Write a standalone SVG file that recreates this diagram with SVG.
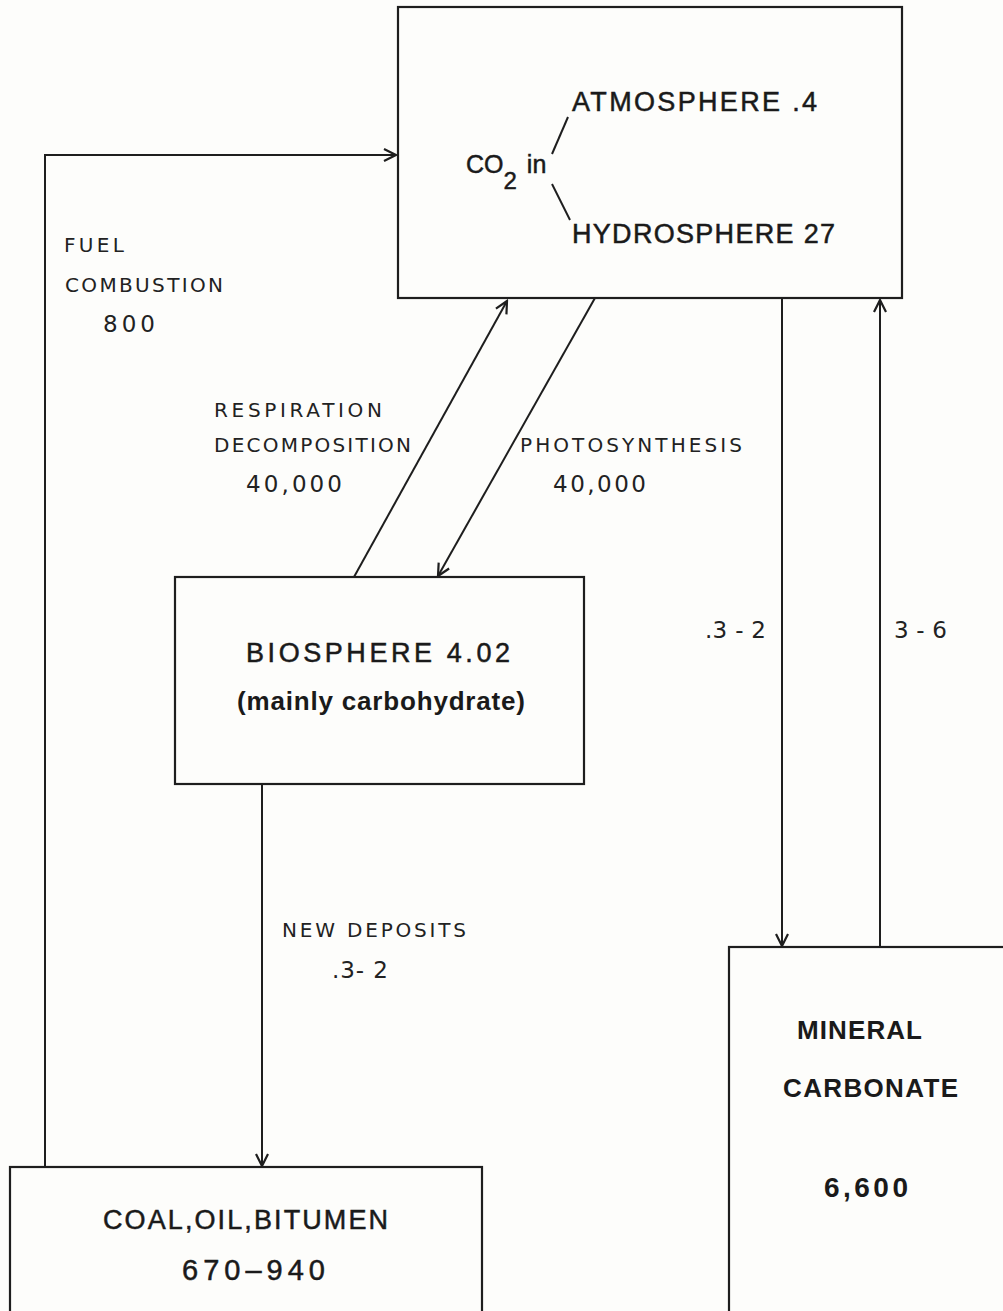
<svg xmlns="http://www.w3.org/2000/svg" width="1003" height="1311" viewBox="0 0 1003 1311">
<style>
.box{fill:none;stroke:#1e1e1e;stroke-width:2.2}
.ln{fill:none;stroke:#1e1e1e;stroke-width:2}
.lbl{font-family:"DejaVu Sans","Liberation Sans",sans-serif;font-size:20px;fill:#222}
.num{font-size:23px}
.bt{font-family:"Liberation Sans",Arial,sans-serif;font-size:27px;fill:#1a1a1a;stroke:#1a1a1a;stroke-width:0.5}
.bb{font-family:"Liberation Sans",Arial,sans-serif;font-size:26px;font-weight:bold;fill:#1a1a1a}
</style>
<defs>
<marker id="ah" viewBox="-14 -8 16 16" refX="0" refY="0" markerWidth="16" markerHeight="16" markerUnits="userSpaceOnUse" orient="auto">
<path d="M-12,-6 L0,0 L-12,6" fill="none" stroke="#1e1e1e" stroke-width="2.2"/>
</marker>
</defs>
<rect width="1003" height="1311" fill="#fdfdfb"/>
<g id="connectors">
<polyline class="ln" points="45,1167 45,155 396,155" marker-end="url(#ah)"/>
<line class="ln" x1="354" y1="577" x2="507" y2="301" marker-end="url(#ah)"/>
<line class="ln" x1="595" y1="298" x2="438" y2="576" marker-end="url(#ah)"/>
<line class="ln" x1="782" y1="298" x2="782" y2="946" marker-end="url(#ah)"/>
<line class="ln" x1="880" y1="947" x2="880" y2="300" marker-end="url(#ah)"/>
<line class="ln" x1="262" y1="784" x2="262" y2="1166" marker-end="url(#ah)"/>
<text class="lbl" x="64" y="252" textLength="60" lengthAdjust="spacing">FUEL</text>
<text class="lbl" x="65" y="292" textLength="158" lengthAdjust="spacing">COMBUSTION</text>
<text class="lbl num" x="103" y="332" textLength="52" lengthAdjust="spacing">800</text>
<text class="lbl" x="214" y="417" textLength="168" lengthAdjust="spacing">RESPIRATION</text>
<text class="lbl" x="214" y="452" textLength="197" lengthAdjust="spacing">DECOMPOSITION</text>
<text class="lbl num" x="246" y="492" textLength="96" lengthAdjust="spacing">40,000</text>
<text class="lbl" x="520" y="452" textLength="222" lengthAdjust="spacing">PHOTOSYNTHESIS</text>
<text class="lbl num" x="553" y="492" textLength="93" lengthAdjust="spacing">40,000</text>
<text class="lbl num" x="705" y="638" textLength="61" lengthAdjust="spacing">.3 - 2</text>
<text class="lbl num" x="894" y="638" textLength="53" lengthAdjust="spacing">3-6</text>
<text class="lbl" x="282" y="937" textLength="184" lengthAdjust="spacing">NEW DEPOSITS</text>
<text class="lbl num" x="332" y="978" textLength="56" lengthAdjust="spacing">.3- 2</text>
</g>
<g id="co2">
<rect class="box" x="398" y="7" width="504" height="291"/>
<text class="bt" x="572" y="111" textLength="245" lengthAdjust="spacing">ATMOSPHERE .4</text>
<text class="bt" x="572" y="243" textLength="263" lengthAdjust="spacing">HYDROSPHERE  27</text>
<text class="bt" x="466" y="173" style="font-size:25px">CO<tspan dy="16" style="font-size:24px">2</tspan><tspan dy="-16" dx="10" style="font-size:25px">in</tspan></text>
<line class="ln" x1="568" y1="117" x2="552" y2="154"/>
<line class="ln" x1="552" y1="184" x2="570" y2="220"/>
</g>
<g id="biosphere">
<rect class="box" x="175" y="577" width="409" height="207"/>
<text class="bt" x="246" y="662" textLength="264" lengthAdjust="spacing">BIOSPHERE  4.02</text>
<text class="bb" x="237" y="710" textLength="288" lengthAdjust="spacing">(mainly carbohydrate)</text>
</g>
<g id="coal">
<rect class="box" x="10" y="1167" width="472" height="200"/>
<text class="bt" x="103" y="1229" textLength="285" lengthAdjust="spacing">COAL,OIL,BITUMEN</text>
<text class="bt" x="182" y="1280" style="font-size:29px" textLength="143" lengthAdjust="spacing">670–940</text>
</g>
<g id="mineral">
<rect class="box" x="729" y="947" width="300" height="400"/>
<text class="bb" x="797" y="1039" textLength="125" lengthAdjust="spacing">MINERAL</text>
<text class="bb" x="783" y="1097" textLength="175" lengthAdjust="spacing">CARBONATE</text>
<text class="bb" x="824" y="1197" style="font-size:28px" textLength="84" lengthAdjust="spacing">6,600</text>
</g>
</svg>
